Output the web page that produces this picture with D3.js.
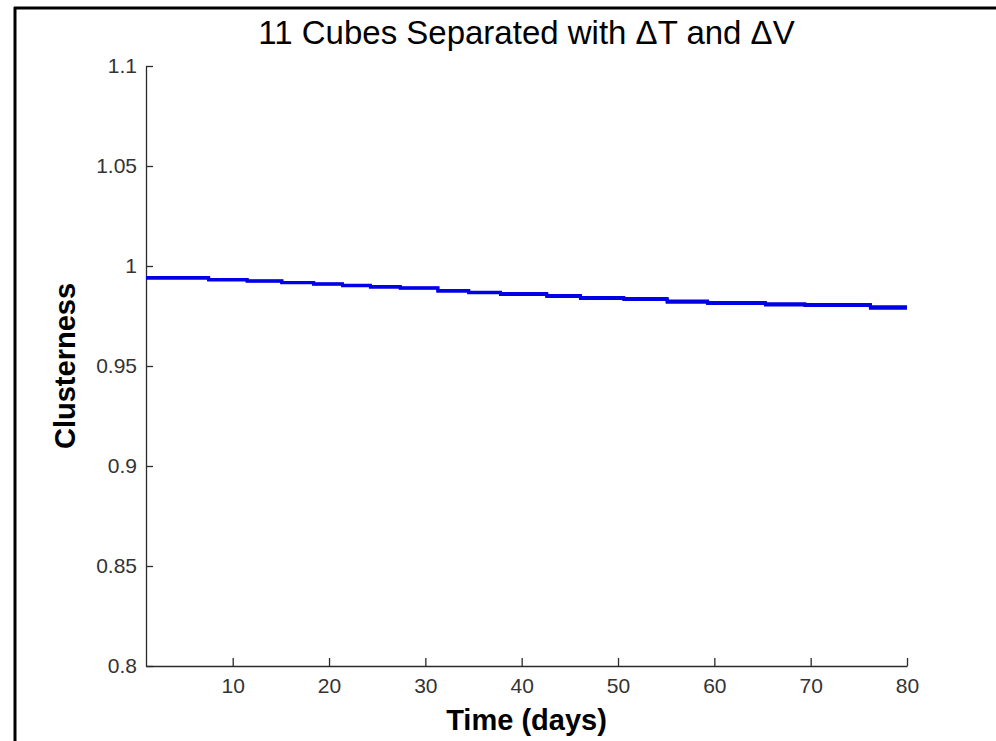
<!DOCTYPE html>
<html>
<head>
<meta charset="utf-8">
<script src="https://d3js.org/d3.v7.min.js"></script>
<style>
  body { margin: 0; background: #fff; }
  svg { display: block; }
  .tick text { font-family: "Liberation Sans", Arial, sans-serif; font-size: 21px; fill: #333; }
  .domain, .tick line { stroke: #2b2b2b; stroke-width: 1.3px; }
</style>
</head>
<body>
<div id="chart"></div>
<script>
// day where each step starts, clusterness value
var days   = [1, 7.5, 11.5, 15.1, 18.4, 21.4, 24.3, 27.4, 31.3, 34.5, 37.8, 42.6, 46.1, 50.6, 55.1, 59.3, 65.3, 69.4, 76.2, 80];
var upper  = [0.9942, 0.9932, 0.9926, 0.9918, 0.9911, 0.9904, 0.9897, 0.9891, 0.9877, 0.9869, 0.9862, 0.9852, 0.9843, 0.9838, 0.9825, 0.9818, 0.9811, 0.9808, 0.9796, 0.9796];
var lower  = [0.9939, 0.9930, 0.9924, 0.9916, 0.9909, 0.9901, 0.9894, 0.9889, 0.9874, 0.9866, 0.9858, 0.9848, 0.9838, 0.9832, 0.9819, 0.9812, 0.9805, 0.9802, 0.9789, 0.9789];
var xTicks = [10, 20, 30, 40, 50, 60, 70, 80];
var yTicks = [0.8, 0.85, 0.9, 0.95, 1, 1.05, 1.1];

var width = 996, height = 741;
var plotLeft = 146, plotRight = 907, plotTop = 66, plotBottom = 666;

var svg = d3.select("#chart").append("svg")
    .attr("width", width)
    .attr("height", height);

// frame edge of the screenshot
svg.append("line").attr("x1", 15).attr("x2", 15).attr("y1", 7).attr("y2", height)
    .attr("stroke", "#000").attr("stroke-width", 3);
svg.append("line").attr("x1", 14).attr("x2", width).attr("y1", 8).attr("y2", 8)
    .attr("stroke", "#000").attr("stroke-width", 3);

var x = d3.scaleLinear().domain([1, 80]).range([plotLeft, plotRight]);
var y = d3.scaleLinear().domain([0.8, 1.1]).range([plotBottom, plotTop]);

svg.append("g")
    .attr("transform", "translate(0," + plotBottom + ")")
    .call(d3.axisBottom(x).tickValues(xTicks).tickSizeInner(-8).tickSizeOuter(0).tickPadding(12));

svg.append("g")
    .attr("transform", "translate(" + plotLeft + ",0)")
    .call(d3.axisLeft(y).tickValues(yTicks).tickFormat(d3.format("")).tickSizeInner(-7).tickSizeOuter(0).tickPadding(9));

var line = d3.line()
    .x(function(d) { return x(d[0]); })
    .y(function(d) { return y(d[1]); })
    .curve(d3.curveStepAfter);

[upper, lower].forEach(function(vals) {
    svg.append("path")
        .datum(days.map(function(d, i) { return [d, vals[i]]; }))
        .attr("fill", "none")
        .attr("stroke", "#0000e6")
        .attr("stroke-width", 3)
        .attr("d", line);
});

svg.append("text")
    .attr("x", (plotLeft + plotRight) / 2)
    .attr("y", 44)
    .attr("text-anchor", "middle")
    .style("font-family", "Liberation Sans, Arial, sans-serif")
    .style("font-size", "33px")
    .text("11 Cubes Separated with \u0394T and \u0394V");

svg.append("text")
    .attr("x", (plotLeft + plotRight) / 2)
    .attr("y", 730)
    .attr("text-anchor", "middle")
    .style("font-family", "Liberation Sans, Arial, sans-serif")
    .style("font-size", "29px")
    .style("font-weight", "bold")
    .text("Time (days)");

svg.append("text")
    .attr("transform", "translate(75," + (plotTop + plotBottom) / 2 + ") rotate(-90)")
    .attr("text-anchor", "middle")
    .style("font-family", "Liberation Sans, Arial, sans-serif")
    .style("font-size", "29px")
    .style("font-weight", "bold")
    .text("Clusterness");
</script>
</body>
</html>
